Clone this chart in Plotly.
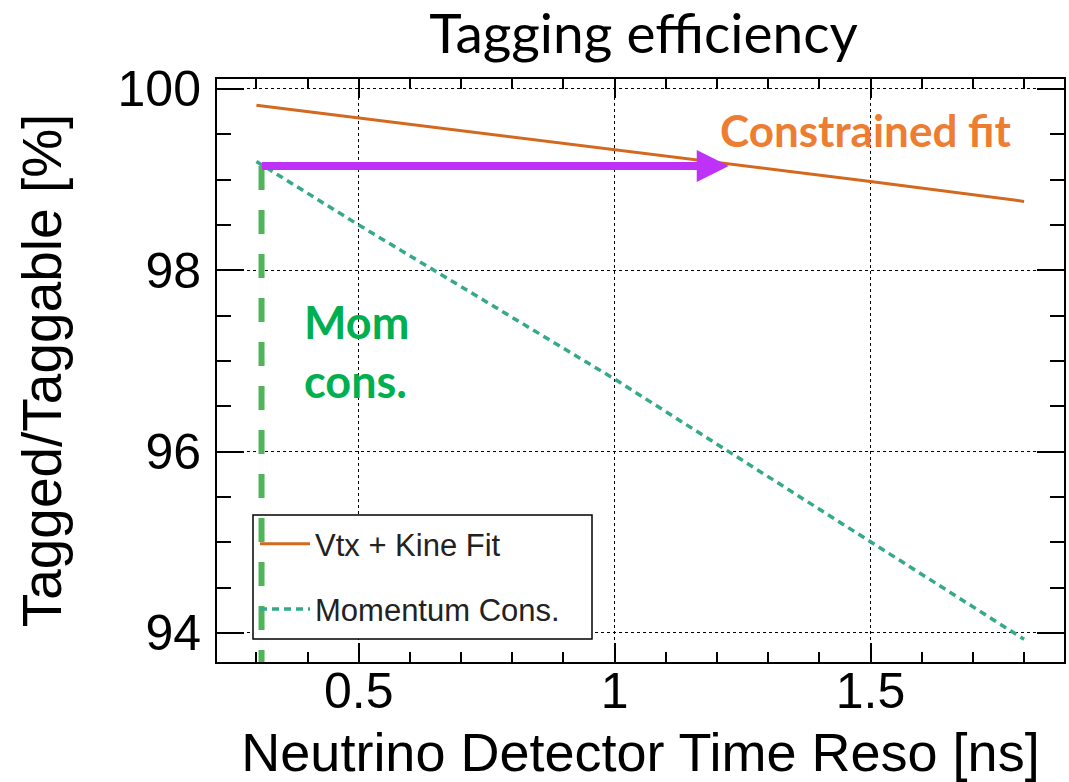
import plotly.graph_objects as go

# ---- data ----
time_reso_ns = [0.3, 0.5, 1.0, 1.5, 1.8]
vtx_kine_fit = [99.82, 99.68, 99.33, 98.98, 98.76]
momentum_cons = [99.20, 98.50, 96.80, 95.00, 93.93]

x_ticks = [0.5, 1.0, 1.5]
x_tick_text = ["0.5", "1", "1.5"]
y_ticks = [94, 96, 98, 100]
y_tick_text = ["94", "96", "98", "100"]

arrow_level = 99.15
arrow_start, arrow_end = 0.308, 1.223
vline_x = 0.31

fig = go.Figure()
fig.add_trace(go.Scatter(
    x=time_reso_ns, y=vtx_kine_fit, mode="lines", name="Vtx + Kine Fit",
    line=dict(color="#D2691E", width=3), legendgroup="a"))
fig.add_trace(go.Scatter(
    x=time_reso_ns, y=momentum_cons, mode="lines", name="Momentum Cons.",
    line=dict(color="#36A98A", width=3.5, dash="7px,5px"), legendgroup="b"))

W, H = 847.0, 583.0
# legend frame (box drawn as shape so its width matches)
fig.add_shape(type="rect", xref="paper", yref="paper",
              x0=(253 - 217) / W, x1=(592 - 217) / W, y0=(662 - 639) / H, y1=(662 - 515) / H,
              line=dict(color="black", width=1.5), fillcolor="white", layer="above")

# green vertical dashed marker line
fig.add_shape(type="line", xref="x", yref="y", x0=vline_x, x1=vline_x,
              y0=arrow_level, y1=93.60, line=dict(color="#50B45A", width=6, dash="24px,20px"),
              layer="above")

# purple arrow
fig.add_annotation(x=arrow_end, y=arrow_level, ax=arrow_start, ay=arrow_level,
                   xref="x", yref="y", axref="x", ayref="y", text="", showarrow=True,
                   arrowhead=2, arrowsize=0.8, arrowwidth=8, arrowcolor="#BE32F8")

fig.add_annotation(xref="paper", yref="paper", x=(865 - 217) / W, y=(662 - 130) / H,
                   xanchor="center", yanchor="middle", text="<b>Constrained fit</b>",
                   showarrow=False, font=dict(family="Lato", size=44, color="#ED7D31"))
fig.add_annotation(xref="paper", yref="paper", x=(302 - 217) / W, y=(662 - 352) / H,
                   xanchor="left", yanchor="middle", text="<b>Mom<br>cons.</b>",
                   showarrow=False, align="left",
                   font=dict(family="Lato", size=45, color="#00B050"))

fig.update_layout(
    width=1069, height=782,
    margin=dict(l=217, r=5, t=79, b=120),
    paper_bgcolor="white", plot_bgcolor="white",
    title=dict(text="Tagging efficiency", x=0.602, xanchor="center", y=0.957, yanchor="middle",
               font=dict(family="Lato", size=55, color="black")),
    showlegend=True,
    legend=dict(x=(255 - 217) / W, y=(662 - 517) / H, xanchor="left", yanchor="top",
                bgcolor="rgba(0,0,0,0)", borderwidth=0,
                font=dict(family="Liberation Sans", size=31, color="#222"),
                tracegroupgap=22, itemwidth=50),
    font=dict(family="Liberation Sans", color="black"),
)

fig.update_xaxes(
    range=[0.223, 1.878], tickvals=x_ticks, ticktext=x_tick_text, automargin=False,
    ticks="inside", ticklen=19, tickwidth=1.5, tickcolor="black",
    showline=True, linecolor="black", linewidth=2, mirror="allticks",
    showgrid=True, gridcolor="black", griddash="dot", gridwidth=1.3,
    zeroline=False, ticklabelstandoff=-16,
    minor=dict(dtick=0.1, tick0=0, ticks="inside", ticklen=10, tickwidth=1.5, tickcolor="black", showgrid=False),
    tickfont=dict(family="Liberation Sans", size=50, color="black"),
    title=dict(text="Neutrino Detector Time Reso [ns]", standoff=18,
               font=dict(family="Liberation Sans", size=54, color="black")),
)
fig.update_yaxes(
    range=[93.68, 100.11], tickvals=y_ticks, ticktext=y_tick_text, automargin=False,
    ticks="inside", ticklen=27, tickwidth=1.5, tickcolor="black",
    showline=True, linecolor="black", linewidth=2, mirror="allticks",
    showgrid=True, gridcolor="black", griddash="dot", gridwidth=1.3,
    zeroline=False, ticklabelstandoff=4,
    minor=dict(dtick=0.5, tick0=0, ticks="inside", ticklen=14, tickwidth=1.5, tickcolor="black", showgrid=False),
    tickfont=dict(family="Liberation Sans", size=50, color="black"),
    title=dict(text="Tagged/Taggable [%]", standoff=38,
               font=dict(family="Liberation Sans", size=55, color="black")),
)

fig.write_html("out.html", config={"displayModeBar": False},
               post_script="document.body.style.margin='0';")
